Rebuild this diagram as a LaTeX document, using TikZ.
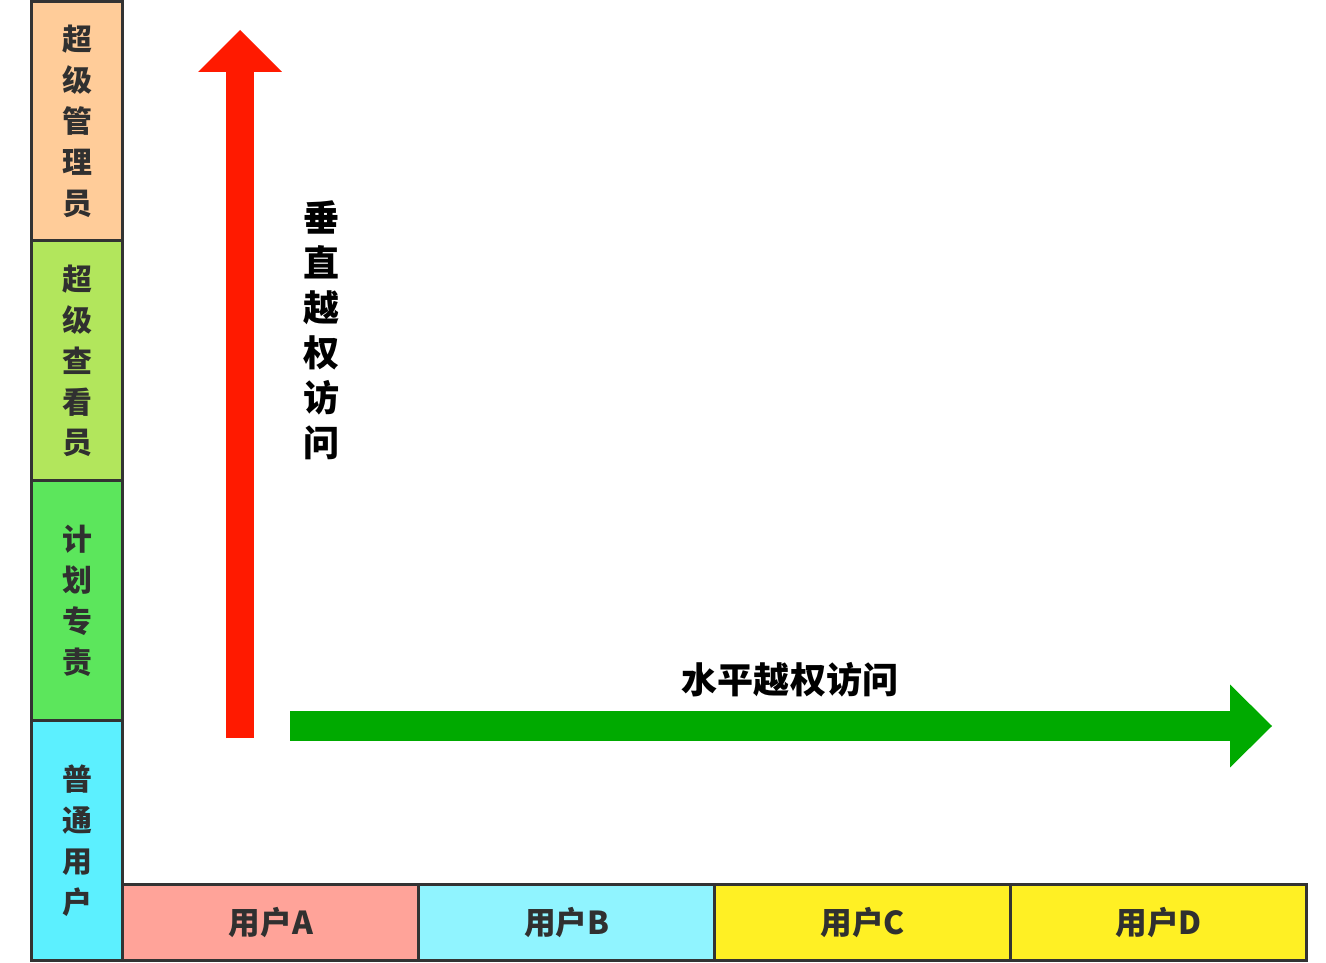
\documentclass[tikz,border=0pt]{standalone}
\usepackage{fontspec}
\newfontfamily\cjk{Noto Sans CJK SC}
\usetikzlibrary{positioning}
\usetikzlibrary{arrows.meta}
\definecolor{cAdmin}{HTML}{FFCC99}
\definecolor{cViewer}{HTML}{B2E65C}
\definecolor{cPlanner}{HTML}{5CE65C}
\definecolor{cPlain}{HTML}{5CF0FF}
\definecolor{cUserA}{HTML}{FFA399}
\definecolor{cUserB}{HTML}{90F4FF}
\definecolor{cUserC}{HTML}{FFF024}
\definecolor{cLine}{HTML}{333333}
\definecolor{cText}{HTML}{303030}
\definecolor{cRed}{HTML}{FF1A00}
\definecolor{cGreen}{HTML}{00AA00}
\tikzset{
  rolebox/.style={draw=cLine, line width=0.06cm, outer sep=0pt, inner sep=0pt,
    minimum width=1.84cm, minimum height=4.8cm, align=center, text=cText,
    font=\cjk\bfseries\fontsize{17}{23.3}\selectfont},
  userbox/.style={draw=cLine, line width=0.06cm, outer sep=0pt,
    minimum width=5.92cm, minimum height=1.52cm, text=cText,
    font=\cjk\bfseries\fontsize{18}{20}\selectfont},
  bigtext/.style={text=black, font=\cjk\bfseries\fontsize{20.5}{25.6}\selectfont},
}
\begin{document}
\begin{tikzpicture}[x=0.02cm, y=-0.02cm]
  \useasboundingbox[fill=white] (0,0) rectangle (1326,963);

  % role column
  \node[rolebox, fill=cAdmin] (admin) at (77,121) {超\\级\\管\\理\\员};
  \node[rolebox, fill=cViewer, below=0pt of admin] (viewer) {超\\级\\查\\看\\员};
  \node[rolebox, fill=cPlanner, below=0pt of viewer] (planner) {计\\划\\专\\责};
  \node[rolebox, fill=cPlain, below=0pt of planner] (plain) {普\\通\\用\\户};

  % user row
  \node[userbox, fill=cUserA, anchor=south west] (userA) at (plain.south east) {用户A};
  \node[userbox, fill=cUserB, right=0pt of userA] (userB) {用户B};
  \node[userbox, fill=cUserC, right=0pt of userB] (userC) {用户C};
  \node[userbox, fill=cUserC, right=0pt of userC] (userD) {用户D};

  % arrows
  \coordinate (vbase) at (240,738);
  \coordinate (vtip) at (240,30);
  \coordinate (hbase) at (290,726);
  \coordinate (htip) at (1272,726);
  \draw[cRed, line width=0.58cm, -{Triangle[width=1.68cm, length=0.84cm, line width=0pt]}] (vbase) -- (vtip);
  \draw[cGreen, line width=0.6cm, -{Triangle[width=1.66cm, length=0.84cm, line width=0pt]}] (hbase) -- (htip);

  \node[bigtext, align=center] (vlabel) at (322,330) {垂\\直\\越\\权\\访\\问};
  \node[bigtext] (hlabel) at (790,680) {水平越权访问};
\end{tikzpicture}
\end{document}
